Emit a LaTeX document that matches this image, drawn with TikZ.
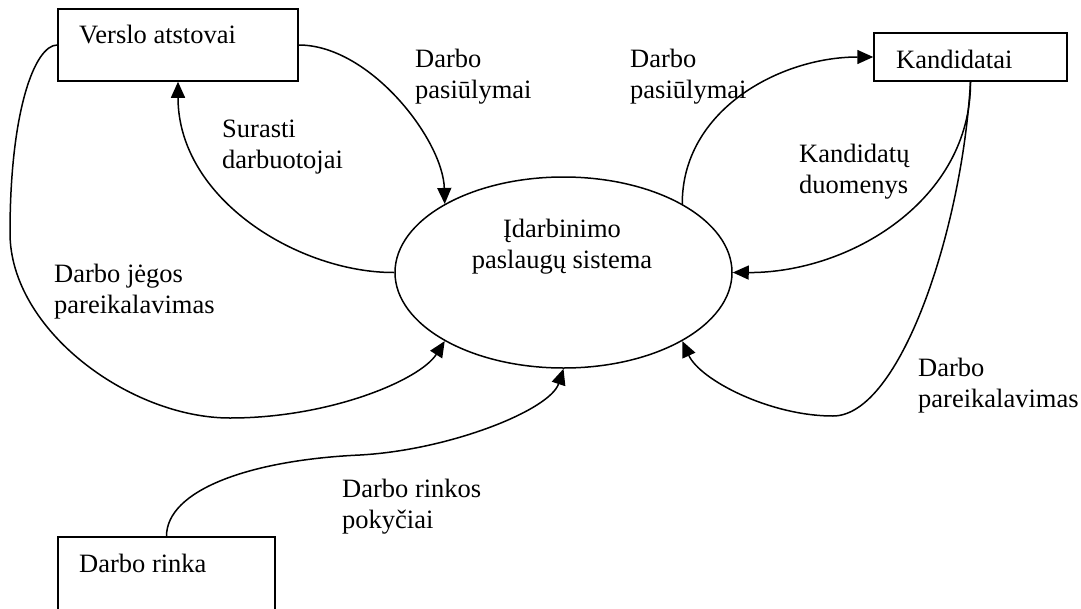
\documentclass[tikz,border=0pt]{standalone}
\usepackage{fontspec}
\usetikzlibrary{shapes.geometric,arrows.meta}
\newfontfamily\lbfont{Liberation Serif}
\begin{document}
\begin{tikzpicture}[x=1pt,y=-1pt,
  box/.style={draw, line width=1.5pt, rectangle, inner sep=0pt},
  proc/.style={draw, line width=1.5pt, ellipse, inner sep=0pt},
  lbl/.style={inner sep=0pt, align=left, font={\lbfont\fontsize{26.5}{30.5}\selectfont}},
  flow/.style={line width=1.5pt, -{Triangle[length=16pt,width=14pt]}}]
\useasboundingbox (0,0) rectangle (1081,608);

% external entities
\node[box, minimum width=240pt, minimum height=72pt] (va) at (178,45) {};
\node[lbl, anchor=base west] (vat) at (79,43) {Verslo atstovai};
\node[box, minimum width=193pt, minimum height=48pt] (kd) at (970.5,57) {};
\node[lbl, anchor=base west] (kdt) at (896,68) {Kandidatai};
\node[box, minimum width=217pt, minimum height=78pt] (dr) at (166.5,576) {};
\node[lbl, anchor=base west] (drt) at (79,572) {Darbo rinka};

% central process (the base anchor of a two-line text is its second line)
\node[proc, minimum width=337pt, minimum height=191pt] (ps) at (563.5,272.5) {};
\node[lbl, align=center, anchor=base] (pst) at (562,268) {Įdarbinimo\\paslaugų sistema};

% data flows
\draw[flow] (va.east) .. controls (370,45) and (443,140) .. (ps.150);
\draw[flow] (ps.west) .. controls (300,273) and (178,200) .. (va.south);
\draw[flow] (ps.30) .. controls (682,110) and (780,57) .. (kd.west);
\draw[flow] (kd.south) .. controls (971,200) and (850,273) .. (ps.east);
\draw[flow] (kd.south) .. controls (962,230) and (900,416) .. (833,416)
  .. controls (770,416) and (700,380) .. (ps.330);
\draw[flow] (va.west) .. controls (35,45) and (10,110) .. (10,233)
  .. controls (10,330) and (130,418) .. (230,418)
  .. controls (330,418) and (420,380) .. (ps.210);
\draw[flow] (dr.north) .. controls (166.5,490) and (250,460) .. (360,455)
  .. controls (450,450) and (550,410) .. (ps.south);

% flow labels, placed by the baseline of their second line
\node[lbl, anchor=base west] (l1) at (415,98) {Darbo\\pasiūlymai};
\node[lbl, anchor=base west] (l2) at (630,98) {Darbo\\pasiūlymai};
\node[lbl, anchor=base west] (l3) at (222,168) {Surasti\\darbuotojai};
\node[lbl, anchor=base west] (l4) at (799,193) {Kandidatų\\duomenys};
\node[lbl, anchor=base west] (l5) at (54,313) {Darbo jėgos\\pareikalavimas};
\node[lbl, anchor=base west] (l6) at (342,528) {Darbo rinkos\\pokyčiai};
\node[lbl, anchor=base west] (l7) at (918,407) {Darbo\\pareikalavimas};
\end{tikzpicture}
\end{document}
